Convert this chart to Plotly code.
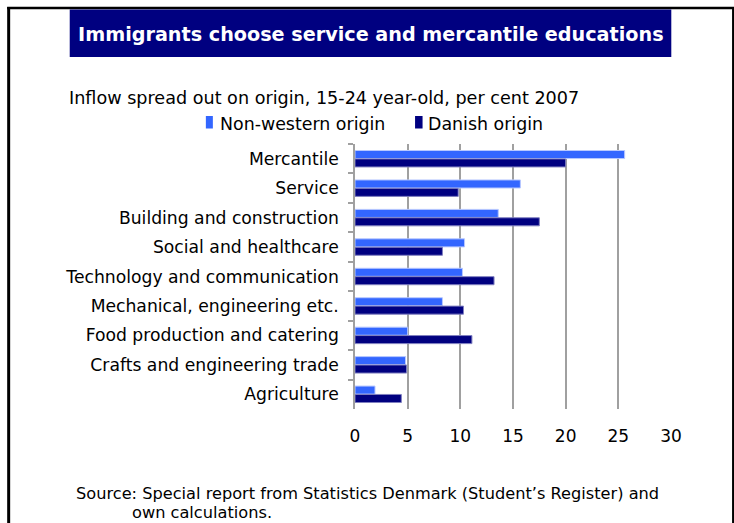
import plotly.graph_objects as go

# Education areas, listed top to bottom
categories = [
    "Mercantile",
    "Service",
    "Building and construction",
    "Social and healthcare",
    "Technology and communication",
    "Mechanical, engineering etc.",
    "Food production and catering",
    "Crafts and engineering trade",
    "Agriculture",
]

# Share of inflow, per cent, 15-24 year-olds, 2007
non_western = [25.6, 15.7, 13.6, 10.4, 10.2, 8.3, 5.0, 4.8, 1.9]
danish = [20.0, 9.8, 17.5, 8.3, 13.2, 10.3, 11.1, 4.9, 4.4]

x_ticks = [0, 5, 10, 15, 20, 25, 30]

FONT = "Verdana, DejaVu Sans, sans-serif"
NAVY = "#000080"
BLUE = "#3366FF"

W, H = 734, 523
L, R, T, B = 355, 670.7, 144, 409


def px(x):
    return (x - L) / (R - L)


def py(y):
    return (B - y) / (B - T)


fig = go.Figure()
fig.add_trace(go.Bar(
    y=categories, x=non_western, orientation="h", name="Non-western origin",
    marker=dict(color=BLUE, line=dict(color="#B8C8FF", width=1)),
))
fig.add_trace(go.Bar(
    y=categories, x=danish, orientation="h", name="Danish origin",
    marker=dict(color=NAVY, line=dict(color="#8080C0", width=1)),
))

shapes = [
    # outer frame (bottom edge runs past the page)
    dict(type="line", xref="paper", yref="paper", x0=px(9), x1=px(9), y0=py(7), y1=py(540),
         line=dict(color="black", width=3)),
    dict(type="line", xref="paper", yref="paper", x0=px(7.5), x1=px(734), y0=py(8), y1=py(8),
         line=dict(color="black", width=2.5)),
    dict(type="line", xref="paper", yref="paper", x0=px(732.7), x1=px(732.7), y0=py(7), y1=py(540),
         line=dict(color="black", width=2)),
    # title banner
    dict(type="rect", xref="paper", yref="paper", x0=px(70), x1=px(671), y0=py(9.5), y1=py(57),
         fillcolor=NAVY, line=dict(width=0)),
    # legend swatches
    dict(type="rect", xref="paper", yref="paper", x0=px(206), x1=px(213), y0=py(116), y1=py(128.5),
         fillcolor=BLUE, line=dict(width=0)),
    dict(type="rect", xref="paper", yref="paper", x0=px(415), x1=px(422.5), y0=py(116), y1=py(128.5),
         fillcolor=NAVY, line=dict(width=0)),
]

annotations = [
    dict(text="<b>Immigrants choose service and mercantile educations</b>",
         x=px(370.5), y=py(34), xanchor="center", yanchor="middle",
         font=dict(family=FONT, size=19.2, color="white")),
    dict(text="Inflow spread out on origin, 15-24 year-old, per cent 2007",
         x=px(67), y=py(98), xanchor="left", yanchor="middle",
         font=dict(family=FONT, size=17.6, color="black")),
    dict(text="Non-western origin", x=px(218), y=py(124), xanchor="left", yanchor="middle",
         font=dict(family=FONT, size=17.4, color="black")),
    dict(text="Danish origin", x=px(426), y=py(124), xanchor="left", yanchor="middle",
         font=dict(family=FONT, size=17.4, color="black")),
    dict(text="Source: Special report from Statistics Denmark (Student\u2019s Register) and",
         x=px(74), y=py(493), xanchor="left", yanchor="middle",
         font=dict(family=FONT, size=16.2, color="black")),
    dict(text="own calculations.",
         x=px(130), y=py(512), xanchor="left", yanchor="middle",
         font=dict(family=FONT, size=16.2, color="black")),
]
for a in annotations:
    a.update(xref="paper", yref="paper", showarrow=False)

fig.update_layout(
    width=W, height=H,
    margin=dict(l=L, r=W - R, t=T, b=H - B, pad=0),
    paper_bgcolor="white", plot_bgcolor="white",
    barmode="group", bargap=0.43, bargroupgap=0.04,
    showlegend=False,
    font=dict(family=FONT, size=16, color="black"),
    shapes=shapes, annotations=annotations,
)
fig.update_xaxes(
    range=[0, 30], tickvals=x_ticks, ticktext=[str(v) for v in x_ticks],
    showgrid=True, gridcolor="#A0A0A0", gridwidth=1.5,
    zeroline=False, showline=False, ticks="",
    ticklabelstandoff=15,
    tickfont=dict(family=FONT, size=17, color="black"),
    fixedrange=True,
)
fig.update_yaxes(
    autorange="reversed", showgrid=False, zeroline=False,
    showline=True, linecolor="#A0A0A0", linewidth=1.5,
    ticks="outside", ticklen=5, tickcolor="#A0A0A0", tickwidth=1.5,
    tickson="boundaries", ticklabelstandoff=11,
    tickfont=dict(family=FONT, size=17.2, color="black"),
    fixedrange=True,
)

fig.write_html("out.html")
